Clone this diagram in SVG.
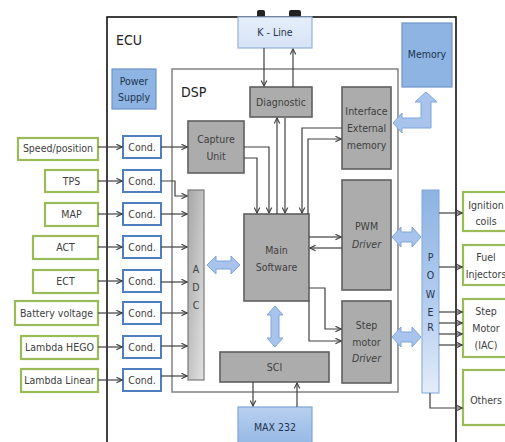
<svg xmlns="http://www.w3.org/2000/svg" width="505" height="442" viewBox="0 0 505 442">
<defs>
<marker id="ah" viewBox="0 0 10 10" refX="9" refY="5" markerWidth="7" markerHeight="7" markerUnits="userSpaceOnUse" orient="auto">
<path d="M1,1 L9,5 L1,9" fill="none" stroke="#404040" stroke-width="1.6"/>
</marker>
<linearGradient id="gPower" x1="0" y1="0" x2="0" y2="1">
<stop offset="0" stop-color="#8db3e2"/><stop offset="0.6" stop-color="#b7cff0"/><stop offset="1" stop-color="#e4edf9"/>
</linearGradient>
<linearGradient id="gMax" x1="0" y1="0" x2="0" y2="1">
<stop offset="0" stop-color="#b9d0f0"/><stop offset="1" stop-color="#8db3e2"/>
</linearGradient>
<linearGradient id="gAdc" x1="0" y1="0" x2="1" y2="1">
<stop offset="0" stop-color="#a6a6a6"/><stop offset="1" stop-color="#e2e2e2"/>
</linearGradient>
<linearGradient id="gK" x1="0" y1="0" x2="0" y2="1">
<stop offset="0" stop-color="#e6eefa"/><stop offset="1" stop-color="#d6e3f5"/>
</linearGradient>
</defs>
<style>
text{font-family:"Liberation Sans Narrow","DejaVu Sans Condensed","Liberation Sans",sans-serif;font-size:10.5px;fill:#404040;text-anchor:middle}
.in{fill:#fff;stroke:#9bbb59;stroke-width:2.2}
.cond{fill:#fff;stroke:#4f7fbf;stroke-width:2}
.gray{fill:#acacac;stroke:#5f5f5f;stroke-width:1.6}
.blue{fill:#8db4e2;stroke:#6d95c9;stroke-width:1.2}
.dbl{fill:#a8c4ec;stroke:#7ea5d8;stroke-width:1}
.ln{fill:none;stroke:#404040;stroke-width:1.2}
.ar{fill:none;stroke:#404040;stroke-width:1.2;marker-end:url(#ah)}
.big{font-size:14px;text-anchor:start;fill:#222}
.bt{fill:#1f3350}
</style>
<rect width="505" height="442" fill="#fff"/>

<g id="ecu">
<rect x="257" y="10" width="8" height="9" rx="2" fill="#222"/>
<rect x="289" y="10" width="12" height="9" rx="2" fill="#222"/>
<rect x="107" y="17" width="349" height="440" fill="none" stroke="#111" stroke-width="1.6"/>
<text class="big" x="116" y="45">ECU</text>
</g>
<g id="dsp">
<rect x="172" y="69" width="226" height="323" fill="none" stroke="#8a8a8a" stroke-width="1.6"/>
<text class="big" x="181" y="97">DSP</text>
</g>

<g id="kline"><rect x="238" y="17" width="74" height="31" fill="url(#gK)" stroke="#95b3d7" stroke-width="1.2"/><text x="275" y="36" class="bt">K - Line</text></g>
<g id="memory"><rect x="402" y="23" width="50" height="64" class="blue"/><text x="427" y="58" class="bt">Memory</text></g>
<g id="powersupply"><rect x="112" y="69" width="44" height="40" class="blue"/><text x="134" y="85" class="bt">Power</text><text x="134" y="101" class="bt">Supply</text></g>

<g id="diagnostic"><rect x="250" y="87" width="62" height="30" class="gray"/><text x="281" y="106">Diagnostic</text></g>
<g id="capture"><rect x="188" y="121" width="56" height="52" class="gray"/><text x="216" y="143">Capture</text><text x="216" y="160">Unit</text></g>
<g id="interface"><rect x="342" y="87" width="49" height="82" class="gray"/><text x="366.5" y="115">Interface</text><text x="366.5" y="132">External</text><text x="366.5" y="149">memory</text></g>
<g id="pwm"><rect x="342" y="180" width="49" height="110" class="gray"/><text x="366.5" y="230">PWM</text><text x="366.5" y="248" font-style="italic">Driver</text></g>
<g id="step"><rect x="342" y="301" width="49" height="82" class="gray"/><text x="366.5" y="329">Step</text><text x="366.5" y="346">motor</text><text x="366.5" y="362" font-style="italic">Driver</text></g>
<g id="main"><rect x="244" y="214" width="65" height="87" class="gray"/><text x="276.5" y="254">Main</text><text x="276.5" y="271">Software</text></g>
<g id="adc"><rect x="188" y="190" width="16" height="190" fill="url(#gAdc)" stroke="#7a7a7a" stroke-width="1.2"/><text x="196" y="273">A</text><text x="196" y="291">D</text><text x="196" y="309">C</text></g>
<g id="sci"><rect x="220" y="352" width="109" height="30" class="gray"/><text x="274.5" y="371">SCI</text></g>
<g id="max232"><rect x="238" y="407" width="74" height="45" fill="url(#gMax)" stroke="#7ea5d8" stroke-width="1.2"/><text x="275" y="431" class="bt">MAX 232</text></g>
<g id="power"><rect x="422" y="190" width="17" height="203" fill="url(#gPower)" stroke="#7ea5d8" stroke-width="1"/><text x="430.5" y="261" class="bt">P</text><text x="430.5" y="279" class="bt">O</text><text x="430.5" y="298" class="bt">W</text><text x="430.5" y="316" class="bt">E</text><text x="430.5" y="331" class="bt">R</text></g>

<g id="inputs">
<g id="in-speed"><rect x="18" y="138" width="80" height="22" class="in"/><text x="58" y="152">Speed/position</text></g>
<g id="in-tps"><rect x="45" y="170" width="53" height="22" class="in"/><text x="71.5" y="185">TPS</text></g>
<g id="in-map"><rect x="45" y="203" width="53" height="23" class="in"/><text x="71.5" y="218">MAP</text></g>
<g id="in-act"><rect x="33" y="236" width="65" height="23" class="in"/><text x="65.5" y="251">ACT</text></g>
<g id="in-ect"><rect x="33" y="270" width="65" height="23" class="in"/><text x="65.5" y="285">ECT</text></g>
<g id="in-batt"><rect x="15" y="301" width="83" height="24" class="in"/><text x="56.5" y="317">Battery voltage</text></g>
<g id="in-hego"><rect x="21" y="336" width="77" height="23" class="in"/><text x="59.5" y="351">Lambda HEGO</text></g>
<g id="in-linear"><rect x="21" y="369" width="77" height="23" class="in"/><text x="59.5" y="384">Lambda Linear</text></g>
</g>
<g id="conds">
<g id="cond1"><rect x="123" y="136" width="38" height="22" class="cond"/><text x="142" y="151">Cond.</text></g>
<g id="cond2"><rect x="123" y="170" width="38" height="22" class="cond"/><text x="142" y="185">Cond.</text></g>
<g id="cond3"><rect x="123" y="203" width="38" height="22" class="cond"/><text x="142" y="218">Cond.</text></g>
<g id="cond4"><rect x="123" y="236" width="38" height="22" class="cond"/><text x="142" y="251">Cond.</text></g>
<g id="cond5"><rect x="123" y="270" width="38" height="22" class="cond"/><text x="142" y="285">Cond.</text></g>
<g id="cond6"><rect x="123" y="302" width="38" height="22" class="cond"/><text x="142" y="317">Cond.</text></g>
<g id="cond7"><rect x="123" y="336" width="38" height="22" class="cond"/><text x="142" y="351">Cond.</text></g>
<g id="cond8"><rect x="123" y="369" width="38" height="22" class="cond"/><text x="142" y="384">Cond.</text></g>
</g>
<g id="outputs">
<g id="out-ign"><rect x="463" y="192" width="50" height="39" class="in"/><text x="486" y="209">Ignition</text><text x="486" y="225">coils</text></g>
<g id="out-fuel"><rect x="463" y="245" width="50" height="40" class="in"/><text x="486" y="261">Fuel</text><text x="486" y="278">Injectors</text></g>
<g id="out-step"><rect x="463" y="299" width="50" height="58" class="in"/><text x="486" y="315">Step</text><text x="486" y="332">Motor</text><text x="486" y="349">(IAC)</text></g>
<g id="out-others"><rect x="463" y="370" width="50" height="55" class="in"/><text x="486" y="404">Others</text></g>
</g>

<g id="connectors">
<path class="ar" d="M98,147 H122"/>
<path class="ar" d="M98,181 H122"/>
<path class="ar" d="M98,214 H122"/>
<path class="ar" d="M98,247 H122"/>
<path class="ar" d="M98,281 H122"/>
<path class="ar" d="M98,313 H122"/>
<path class="ar" d="M98,347 H122"/>
<path class="ar" d="M98,380 H122"/>
<path class="ar" d="M161,147 H187"/>
<path class="ar" d="M161,181 H175 V196 H187"/>
<path class="ar" d="M161,214 H187"/>
<path class="ar" d="M161,247 H187"/>
<path class="ar" d="M161,282 H187"/>
<path class="ar" d="M161,313 H187"/>
<path class="ar" d="M161,346 H187"/>
<path class="ar" d="M161,376 H187"/>
<path class="ar" d="M264,48 V86"/>
<path class="ar" d="M293,87 V49"/>
<path class="ar" d="M244,147 H269 V213"/>
<path class="ar" d="M244,158 H257 V213"/>
<path class="ar" d="M277,214 V118"/>
<path class="ar" d="M285,118 V213"/>
<path class="ar" d="M342,128 H302 V213"/>
<path class="ar" d="M308,214 V139 H341"/>
<path class="ar" d="M309,237 H341"/>
<path class="ar" d="M342,248 H310"/>
<path class="ar" d="M309,288 H325 V329 H341"/>
<path class="ar" d="M309,301 V341 H341"/>
<path class="ar" d="M253,382 V406"/>
<path class="ar" d="M297,407 V383"/>
<path class="ar" d="M439,213 H462"/>
<path class="ar" d="M439,267 H462"/>
<path class="ar" d="M439,312 H462"/>
<path class="ar" d="M439,323 H462"/>
<path class="ar" d="M439,334 H462"/>
<path class="ar" d="M439,345 H462"/>
<path class="ar" d="M430,393 V408 H462"/>
<path class="dbl" d="M207,265 L216,256 L216,261 L231,261 L231,256 L240,265 L231,274 L231,269 L216,269 L216,274 Z"/>
<path class="dbl" d="M275,306 L283,315 L279,315 L279,338 L283,338 L275,347 L267,338 L271,338 L271,315 L267,315 Z"/>
<path class="dbl" d="M392,237 L401,227 L401,232 L412,232 L412,227 L421,237 L412,247 L412,242 L401,242 L401,247 Z"/>
<path class="dbl" d="M392,337 L401,327 L401,332 L412,332 L412,327 L421,337 L412,347 L412,342 L401,342 L401,347 Z"/>
<path class="dbl" d="M393,123 L402,113 L402,118 L421,118 L421,102 L415,102 L426,92 L437,102 L431,102 L431,128 L402,128 L402,133 Z"/>
</g>
</svg>
